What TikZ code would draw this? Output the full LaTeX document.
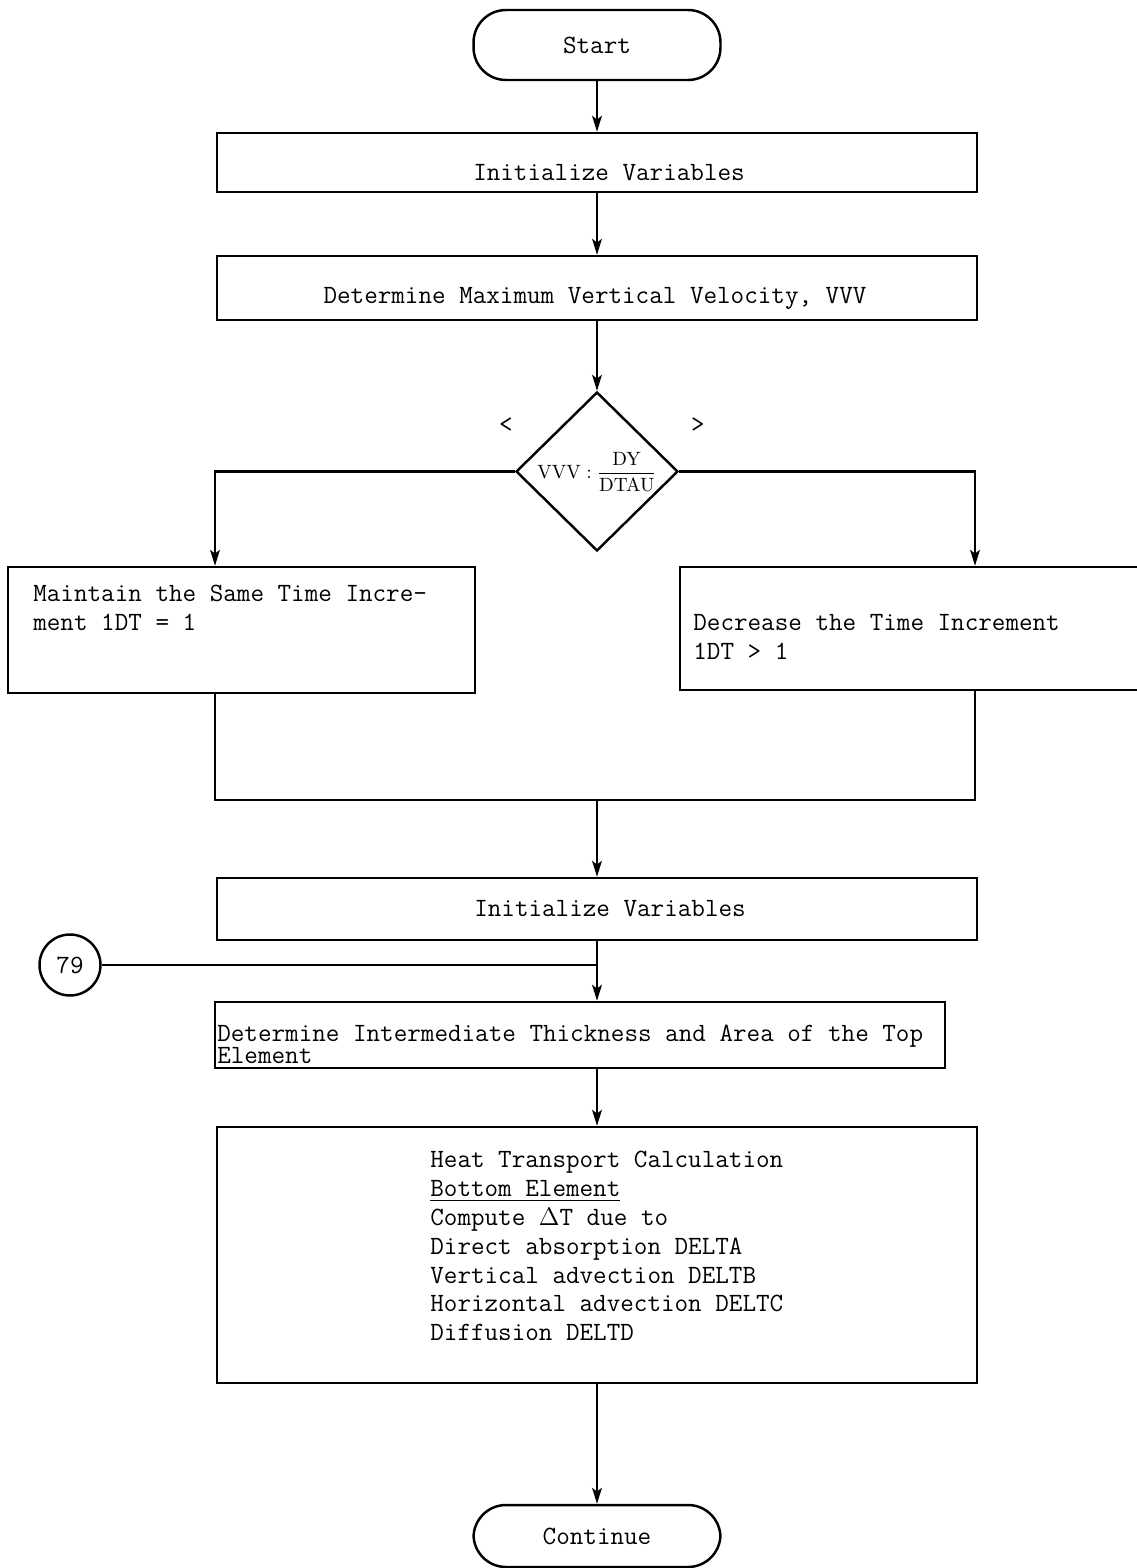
\documentclass[tikz,border=0pt]{standalone}
\usepackage{amsmath}
\usetikzlibrary{arrows.meta}
\usetikzlibrary{shapes.geometric}
\newcommand{\tightlines}{\lineskiplimit=-20pt\relax}
\tikzset{>={Stealth[length=9pt,width=5.5pt,inset=2pt]}}
\tikzset{flow/.style={line width=1.4pt}}
\tikzset{flowbox/.style={draw, flow, rectangle, inner sep=0pt, minimum width=15.2cm}}
\tikzset{terminal/.style={draw, flow, rectangle, rounded corners=0.65cm, inner sep=0pt, minimum width=4.94cm, font=\fontsize{15}{18}\selectfont\ttfamily}}
\tikzset{flowtext/.style={inner sep=0pt, align=left, font=\fontsize{15}{16.4}\selectfont\ttfamily}}
\tikzset{decision/.style={draw, flow, diamond, inner sep=0pt, minimum width=3.24cm, minimum height=3.18cm}}
\tikzset{conn/.style={draw, flow, circle, inner sep=0pt, minimum size=1.22cm, font=\fontsize{15}{18}\selectfont\ttfamily}}

\begin{document}
\begin{tikzpicture}[x=0.02cm, y=-0.02cm]
      \useasboundingbox (0, 0) rectangle (1136, 1568);

      \node [terminal, minimum height=1.4cm] (start) at (597, 45) {Start};

      \node [flowbox, minimum height=1.18cm] (init1) at (597, 162.5) {};
      \node [flowtext] (init1txt) at (609, 173) {Initialize Variables};

      \node [flowbox, minimum height=1.28cm] (vmax) at (597, 288) {};
      \node [flowtext] (vmaxtxt) at (595, 298) {Determine Maximum Vertical Velocity, VVV};

      \node [decision] (dec) at (597, 471.5) {};
      \node [inner sep=0pt, font=\fontsize{11}{13}\selectfont] (dectxt) at (597, 472) {$\mathrm{VVV}:\dfrac{\mathrm{DY}}{\mathrm{DTAU}}$};
      \node [flowtext] (lt) at (506, 425) {<};
      \node [flowtext] (gt) at (698, 425) {>};

      \node [flowbox, minimum width=9.34cm, minimum height=2.52cm] (lbox) at (241.5, 630) {};
      \node [flowtext, anchor=north west] (lboxtxt) at (33, 585) {Maintain the Same Time Incre-\\ment 1DT = 1};
      \node [flowbox, minimum width=9.2cm, minimum height=2.46cm] (rbox) at (910, 628.5) {};
      \node [flowtext, anchor=north west] (rboxtxt) at (693, 614) {Decrease the Time Increment\\1DT > 1};

      \node [flowbox, minimum height=1.24cm] (init2) at (597, 909) {};
      \node [flowtext] (init2txt) at (610, 909) {Initialize Variables};

      \node [conn] (c79) at (70, 965) {79};

      \node [flowbox, minimum width=14.6cm, minimum height=1.32cm] (topel) at (580, 1035) {};
      \node [flowtext, anchor=north west, font=\fontsize{15}{12.6}\selectfont\ttfamily\tightlines] (topeltxt) at (217, 1025) {Determine Intermediate Thickness and Area of the Top\\Element};

      \node [flowbox, minimum height=5.12cm] (heat) at (597, 1255) {};
      \node [flowtext, anchor=north west] (heattxt) at (430, 1151) {Heat Transport Calculation\\\underline{Bottom Element}\\Compute $\Delta$T due to\\Direct absorption DELTA\\Vertical advection DELTB\\Horizontal advection DELTC\\Diffusion DELTD};

      \node [terminal, minimum height=1.24cm] (cont) at (597, 1536) {Continue};

      \coordinate (lcorner) at (215, 472);
      \coordinate (rcorner) at (975, 472);
      \coordinate (mergeL) at (215, 800);
      \coordinate (mergeR) at (975, 800);
      \coordinate (junc) at (597, 965);

      \draw [flow, ->] (start) -- (init1);
      \draw [flow, ->] (init1) -- (vmax);
      \draw [flow, ->] (vmax) -- (dec);
      \draw [flow, ->] (dec.west) -| (lcorner |- lbox.north);
      \draw [flow, ->] (dec.east) -| (rcorner |- rbox.north);
      \draw [flow] (lcorner |- lbox.south) -- (mergeL) -- (mergeR) -- (rcorner |- rbox.south);
      \draw [flow, ->] (mergeL -| init2) -- (init2);
      \draw [flow] (init2) -- (junc);
      \draw [flow] (c79) -- (junc);
      \draw [flow, ->] (junc) -- (junc |- topel.north);
      \draw [flow, ->] (junc |- topel.south) -- (heat);
      \draw [flow, ->] (heat) -- (cont);
    \end{tikzpicture}
\end{document}
